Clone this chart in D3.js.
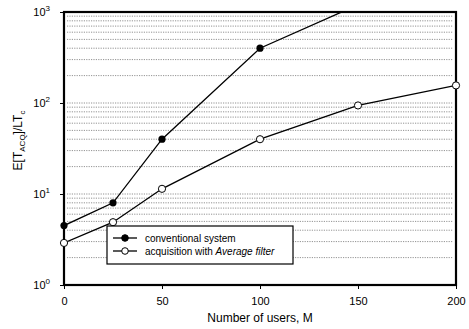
<!DOCTYPE html>
<html><head><meta charset="utf-8">
<script src="https://cdn.jsdelivr.net/npm/d3@7"></script>
<style>body{margin:0;background:#fff}svg{font-family:"Liberation Sans",Arial,sans-serif}</style>
</head><body><svg id="c" width="469" height="329"></svg>
<script>
const conventionalX = [0, 25, 50, 100, 150];
const conventionalY = [4.5, 8, 40, 400, 1200];
const averageX = [0, 25, 50, 100, 150, 200];
const averageY = [2.9, 4.9, 11.4, 40, 94, 156];
const xTicks = [0, 50, 100, 150, 200];
const yTickExp = [0, 1, 2, 3];
const legendLabels = ["conventional system", "acquisition with ", "Average filter"];

const svg = d3.select("#c");
const L = 64, R = 456, T = 12, B = 285;
const x = d3.scaleLinear().domain([0, 200]).range([L, R]);
const y = d3.scaleLog().domain([1, 1000]).range([B, T]);

svg.append("defs").append("clipPath").attr("id","clip")
  .append("rect").attr("x",L).attr("y",T).attr("width",R-L).attr("height",B-T);

// grid lines (minor ticks)
const minor = [];
for (let e = 0; e < 3; e++) for (let m = 2; m <= 10; m++) minor.push(m * Math.pow(10, e));
svg.append("g").selectAll("line").data(minor).join("line")
  .attr("x1", L + 3).attr("x2", R - 3)
  .attr("y1", d => y(d)).attr("y2", d => y(d))
  .attr("stroke", "#777").attr("stroke-width", 0.8).attr("stroke-dasharray", "1.2,1.2");

const line = d3.line().x(d => x(d[0])).y(d => y(d[1]));
const conv = conventionalX.map((v, i) => [v, conventionalY[i]]);
const avg = averageX.map((v, i) => [v, averageY[i]]);

const g = svg.append("g").attr("clip-path", "url(#clip)");
g.append("path").attr("d", line(conv)).attr("fill", "none").attr("stroke", "#000").attr("stroke-width", 1.3);
g.append("path").attr("d", line(avg)).attr("fill", "none").attr("stroke", "#000").attr("stroke-width", 1.3);

// frame
svg.append("rect").attr("x", L).attr("y", T).attr("width", R - L).attr("height", B - T)
  .attr("fill", "none").attr("stroke", "#000").attr("stroke-width", 2.2);

// markers
svg.append("g").selectAll("circle").data(conv.filter(d => d[1] <= 1000)).join("circle")
  .attr("cx", d => x(d[0])).attr("cy", d => y(d[1])).attr("r", 3.6).attr("fill", "#000");
svg.append("g").selectAll("circle").data(avg).join("circle")
  .attr("cx", d => x(d[0])).attr("cy", d => y(d[1])).attr("r", 3.6)
  .attr("fill", "#fff").attr("stroke", "#000").attr("stroke-width", 1);

// x axis
const xa = svg.append("g").attr("transform", `translate(0,${B})`)
  .call(d3.axisBottom(x).tickValues(xTicks).tickSize(4).tickPadding(8).tickFormat(d3.format("d")));
xa.select(".domain").remove();
xa.selectAll("text").attr("font-size", 11).attr("fill", "#000");
xa.selectAll("line").attr("stroke", "#000");

// y axis
const ya = svg.append("g").attr("transform", `translate(${L},0)`)
  .call(d3.axisLeft(y).tickValues(yTickExp.map(e => Math.pow(10, e))).tickSize(4).tickPadding(4).tickFormat(""));
ya.select(".domain").remove();
ya.selectAll("line").attr("stroke", "#000");
const yl = svg.append("g");
yTickExp.forEach(e => {
  const t = yl.append("text").attr("x", L - 14).attr("y", y(Math.pow(10, e)) + 4)
    .attr("text-anchor", "end").attr("font-size", 11);
  t.append("tspan").text("10");
  t.append("tspan").attr("dy", -5).attr("font-size", 8).text(e);
});

// axis titles
svg.append("text").attr("x", (L + R) / 2).attr("y", 322).attr("text-anchor", "middle")
  .attr("font-size", 12).text("Number of users, M");
const yt = svg.append("text").attr("transform", `translate(22,${(T + B) / 2 - 8}) rotate(-90)`)
  .attr("text-anchor", "middle").attr("font-size", 12);
yt.append("tspan").text("E[T");
yt.append("tspan").attr("font-size", 8).attr("dy", 3).text("ACQ");
yt.append("tspan").attr("dy", -3).text("]/LT");
yt.append("tspan").attr("font-size", 8).attr("dy", 3).text("c");

// legend
const lg = svg.append("g").attr("transform", "translate(107,226)");
lg.append("rect").attr("width", 186).attr("height", 38).attr("fill", "#fff").attr("stroke", "#000").attr("stroke-width", 1.2);
[0, 1].forEach(i => {
  const yy = 12 + i * 13;
  lg.append("line").attr("x1", 6).attr("x2", 30).attr("y1", yy).attr("y2", yy).attr("stroke", "#000").attr("stroke-width", 1.3);
  lg.append("circle").attr("cx", 18).attr("cy", yy).attr("r", 3.3)
    .attr("fill", i === 0 ? "#000" : "#fff").attr("stroke", "#000");
  const t = lg.append("text").attr("x", 38).attr("y", yy + 3.5).attr("font-size", 10);
  if (i === 0) t.text(legendLabels[0]);
  else { t.append("tspan").text(legendLabels[1]); t.append("tspan").attr("font-style", "italic").text(legendLabels[2]); }
});
</script></body></html>
